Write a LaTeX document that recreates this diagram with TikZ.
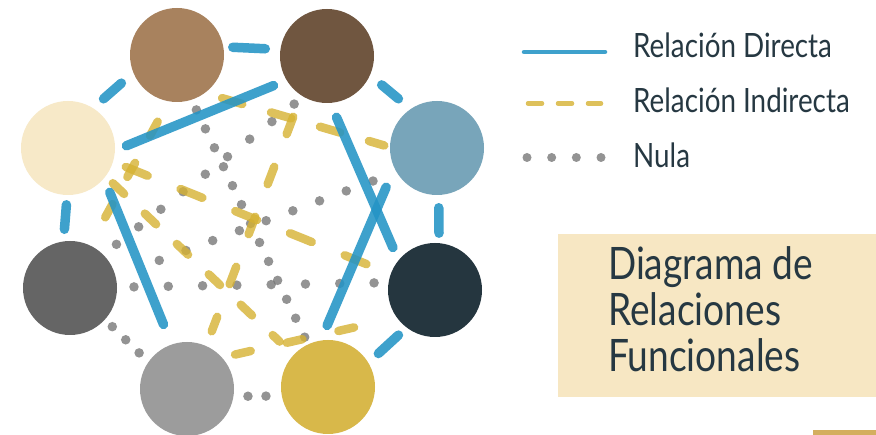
\documentclass[tikz,border=0pt]{standalone}
\usepackage{fontspec}
\setmainfont[FakeStretch=0.83]{Lato}
\usetikzlibrary{positioning}

\definecolor{cafeClaro}{RGB}{168,130,94}
\definecolor{cafeOscuro}{RGB}{112,86,64}
\definecolor{azulAcero}{RGB}{120,165,186}
\definecolor{azulNoche}{RGB}{37,54,63}
\definecolor{dorado}{RGB}{216,184,74}
\definecolor{grisClaro}{RGB}{156,156,156}
\definecolor{grisOscuro}{RGB}{101,101,101}
\definecolor{cremaClaro}{RGB}{247,233,200}
\definecolor{lineaAzul}{RGB}{36,148,198}
\definecolor{lineaOro}{RGB}{214,178,50}
\definecolor{puntoGris}{RGB}{120,120,120}
\definecolor{texto}{RGB}{38,56,66}
\definecolor{fondoTitulo}{RGB}{247,231,195}
\definecolor{barraOro}{RGB}{212,174,94}

\tikzset{
  circulo/.style={circle, minimum size=94pt, inner sep=0pt, outer sep=0pt},
  directa/.style={draw=lineaAzul, line width=9.5pt, line cap=round, draw opacity=0.88},
  indirecta/.style={draw=lineaOro, line width=8.5pt, line cap=round, draw opacity=0.8},
  nula/.style={draw=puntoGris, line width=9.5pt, line cap=round, draw opacity=0.8},
  corte/.style 2 args={shorten <=#1pt, shorten >=#2pt},
  leyenda/.style={anchor=base west, inner sep=0pt, text=texto,
    font=\fontsize{33.5}{40}\selectfont},
  titulo/.style={anchor=base west, inner sep=0pt, text=texto,
    font=\fontsize{44.7}{46}\selectfont}
}

\begin{document}
\begin{tikzpicture}[x=1pt, y=-1pt]

    \fill[white] (0,0) rectangle (876,435);
    \useasboundingbox (0,0) rectangle (876,435);

    % circulos
    \node[circulo, fill=cafeClaro] (cafe) at (177,55) {};
    \node[circulo, fill=cafeOscuro] (marron) at (327,56) {};
    \node[circulo, fill=azulAcero] (acero) at (437,148) {};
    \node[circulo, fill=azulNoche] (noche) at (435,290) {};
    \node[circulo, fill=dorado] (oro) at (328,387) {};
    \node[circulo, fill=grisClaro] (gris) at (187,389) {};
    \node[circulo, fill=grisOscuro] (plomo) at (70,288) {};
    \node[circulo, fill=cremaClaro] (crema) at (68,148) {};

    % relaciones nulas
    \draw[nula, dash pattern=on 0pt off 28.3pt, corte={11.9}{16.8}]
    (marron.240) -- (plomo.45);
    \draw[nula, dash pattern=on 0pt off 20.98pt, corte={11.3}{7.0}]
    (cafe.-72) -- (oro.115);
    \draw[nula, dash pattern=on 0pt off 28.5pt, corte={25.3}{18.3}]
    (acero.211) -- (plomo.14);
    \draw[nula, dash pattern=on 0pt off 34.3pt, corte={17}{13.8}]
    (plomo.1) -- (noche.171);
    \draw[nula, dash pattern=on 0pt off 18pt, corte={15.9}{14}]
    (oro.191) -- (gris.-9);
    \draw[nula, dash pattern=on 0pt off 18.75pt, corte={13.1}{9.2}]
    (gris.145) -- (plomo.-42);

    % relaciones indirectas
    \draw[indirecta, dash pattern=on 21pt off 30pt, corte={18.2}{6}]
    (cafe.-54) -- (acero.179);
    \draw[indirecta, dash pattern=on 18.5pt off 35pt, corte={22.9}{15.8}]
    (marron.237) -- (gris.66);
    \draw[indirecta, dash pattern=on 23.5pt off 35.5pt, corte={13.9}{19.5}]
    (crema.-17) -- (noche.160);
    \draw[indirecta, dash pattern=on 16pt off 31pt, corte={23.25}{32}]
    (cafe.260) -- (plomo.65);
    \draw[indirecta, dash pattern=on 15.5pt off 28.6pt, corte={10.1}{19.4}]
    (crema.-37) -- (oro.137);
    \draw[indirecta, dash pattern=on 16pt off 37pt, corte={13.5}{10.1}]
    (gris.42) -- (noche.216);

    % relaciones directas
    \draw[directa, corte={9.5}{15.2}] (cafe.10) -- (marron.172);
    \draw[directa, corte={15.3}{16}] (marron.-24) -- (acero.124);
    \draw[directa, corte={12.8}{10}] (acero.-88) -- (noche.85);
    \draw[directa, corte={11.2}{13.7}] (noche.233) -- (oro.31);
    \draw[directa, corte={9.8}{12.2}] (crema.269) -- (plomo.98);
    \draw[directa, corte={14.1}{16}] (crema.58) -- (cafe.202);
    \draw[directa, corte={12.4}{14.2}] (crema.-3) -- (marron.211);
    \draw[directa, corte={15.7}{14}] (marron.-86) -- (noche.141);
    \draw[directa, corte={21.1}{16.5}] (acero.205) -- (oro.99);
    \draw[directa, corte={15.3}{21.7}] (crema.-40) -- (gris.109);

    % leyenda
    \node[leyenda] (ldirecta) at (633,58) {Relación Directa};
    \node[leyenda] (lindirecta) at (633,113) {Relación Indirecta};
    \node[leyenda] (lnula) at (633,168) {Nula};

    \coordinate (d1) at (524,52);
    \coordinate (d2) at (605,52);
    \draw[directa, line width=4.5pt] (d1) -- (d2);

    \coordinate (i1) at (528,103.5);
    \coordinate (i2) at (601,103.5);
    \draw[indirecta, line width=4.5pt, dash pattern=on 14pt off 16pt] (i1) -- (i2);

    \coordinate (n1) at (527,157.5);
    \coordinate (n2) at (601.5,157.5);
    \draw[nula, line width=9pt, dash pattern=on 0pt off 24.67pt] (n1) -- (n2);

    % titulo
    \fill[fondoTitulo] (558,234) rectangle (876,397);
    \node[titulo] (t1) at (608,280) {Diagrama de};
    \node[titulo] (t2) at (608,326) {Relaciones};
    \node[titulo] (t3) at (608,372) {Funcionales};

    \fill[barraOro] (813,430) rectangle (876,435);

\end{tikzpicture}
\end{document}
